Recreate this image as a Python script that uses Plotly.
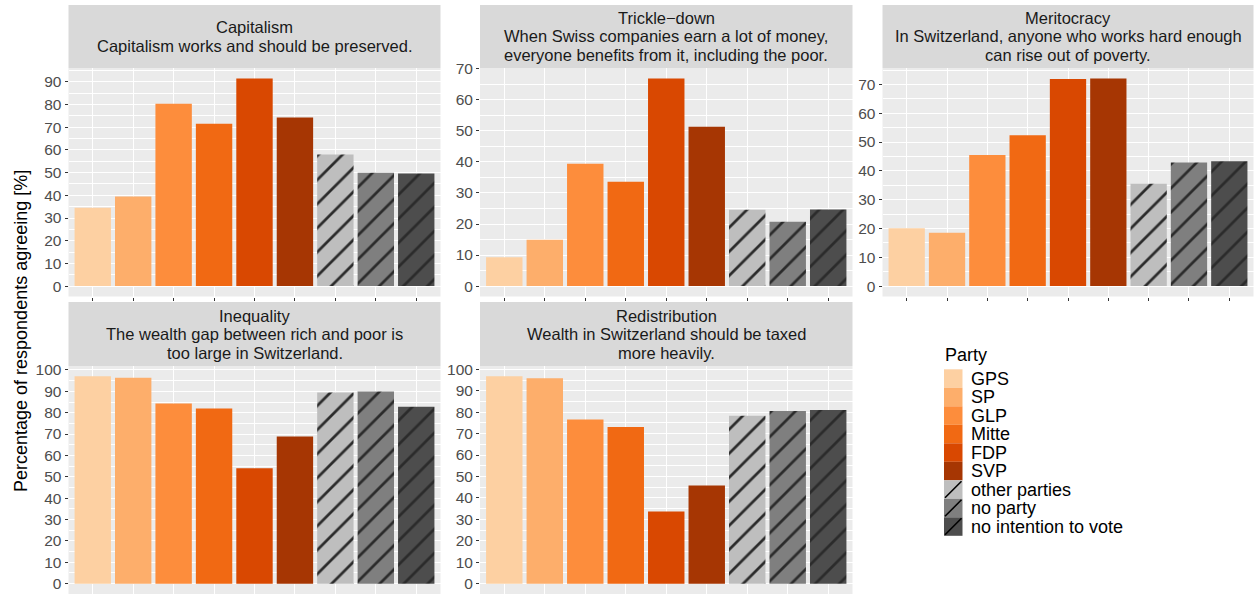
import plotly.graph_objects as go

# ---------------- data ----------------
parties = ["GPS", "SP", "GLP", "Mitte", "FDP", "SVP",
           "other parties", "no party", "no intention to vote"]
party_colors = ["#FDD0A2", "#FDAE6B", "#FD8D3C", "#F16913", "#D94801", "#A63603",
                "#BEBEBE", "#7F7F7F", "#4D4D4D"]
party_hatched = [False, False, False, False, False, False, True, True, True]

topics = ["Capitalism", "Trickle\u2212down", "Meritocracy", "Inequality", "Redistribution"]
statements = [
    ["Capitalism works and should be preserved."],
    ["When Swiss companies earn a lot of money,", "everyone benefits from it, including the poor."],
    ["In Switzerland, anyone who works hard enough", "can rise out of poverty."],
    ["The wealth gap between rich and poor is", "too large in Switzerland."],
    ["Wealth in Switzerland should be taxed", "more heavily."],
]

capitalism = [34.5, 39.5, 80.3, 71.5, 91.5, 74.3, 58.0, 49.9, 49.6]
trickle_down = [9.3, 14.9, 39.4, 33.6, 66.9, 51.3, 24.6, 20.7, 24.7]
meritocracy = [20.1, 18.5, 45.5, 52.4, 71.9, 72.1, 35.5, 42.9, 43.3]
inequality = [97.0, 96.4, 84.3, 82.0, 54.0, 68.9, 89.4, 89.9, 82.8]
redistribution = [96.7, 95.8, 76.6, 73.1, 33.7, 45.8, 78.3, 80.5, 81.0]
panel_values = [capitalism, trickle_down, meritocracy, inequality, redistribution]

y_title = "Percentage of respondents agreeing [%]"
legend_title = "Party"

# ---------------- layout geometry (pixels) ----------------
W, H = 1254, 594
col_px = [(68.5, 440.5), (480, 852.5), (882.5, 1253.5)]
row_px = [(68, 296.5), (366, 594)]
strip_px = [(5, 68), (302, 366)]
FONT = "Liberation Sans, Arial, sans-serif"
HATCH = "#2B2B2B"


def fx(px):
    return px / W


def fy(py):
    return 1 - py / H


fig = go.Figure()
shapes = []
annotations = []

for i, vals in enumerate(panel_values):
    r, c = divmod(i, 3)
    n = i + 1
    xa = "x" if n == 1 else f"x{n}"
    ya = "y" if n == 1 else f"y{n}"
    plain = [j for j, h in enumerate(party_hatched) if not h]
    hatched = [j for j, h in enumerate(party_hatched) if h]
    fig.add_trace(go.Bar(
        x=[parties[j] for j in plain], y=[vals[j] for j in plain],
        xaxis=xa, yaxis=ya, showlegend=False,
        marker=dict(color=[party_colors[j] for j in plain], line=dict(width=0)),
    ))
    for j in hatched:
        fig.add_trace(go.Bar(
            x=[parties[j]], y=[vals[j]],
            xaxis=xa, yaxis=ya, showlegend=False,
            marker=dict(color=party_colors[j], line=dict(width=0),
                        pattern=dict(shape="/", fillmode="overlay", fgcolor=HATCH,
                                     bgcolor=party_colors[j],
                                     fgopacity=1, size=17, solidity=0.16)),
        ))
    m = max(vals)
    x0, x1 = col_px[c]
    y0, y1 = row_px[r]
    fig.layout[("xaxis" if n == 1 else f"xaxis{n}")] = dict(
        domain=[fx(x0), fx(x1)], anchor=ya, type="category",
        categoryorder="array", categoryarray=parties,
        range=[-0.6, len(parties) - 0.4], automargin=False,
        showticklabels=False, ticks="outside", ticklen=3, tickcolor="#333333",
        tickwidth=1, showgrid=True, gridcolor="white", gridwidth=1.1,
        zeroline=False, showline=False, fixedrange=True,
    )
    fig.layout[("yaxis" if n == 1 else f"yaxis{n}")] = dict(
        domain=[fy(y1), fy(y0)], anchor=xa, automargin=False,
        range=[-0.05 * m, 1.05 * m], tick0=0, dtick=10,
        ticks="outside", ticklen=3, tickcolor="#333333", tickwidth=1,
        tickfont=dict(family=FONT, size=15.5, color="#4D4D4D"),
        showgrid=True, gridcolor="white", gridwidth=1.1,
        minor=dict(tick0=5, dtick=10, showgrid=True, gridcolor="white", gridwidth=0.5),
        zeroline=False, showline=False, fixedrange=True,
    )
    # strip
    s0, s1 = strip_px[r]
    shapes.append(dict(type="rect", xref="paper", yref="paper",
                       x0=fx(x0), x1=fx(x1), y0=fy(s1), y1=fy(s0),
                       fillcolor="#D9D9D9", line=dict(width=0), layer="below"))
    lines = [topics[i]] + statements[i]
    centre = (s0 + s1) / 2
    nl = len(lines)
    for k, t in enumerate(lines):
        py = centre + (k - (nl - 1) / 2) * 18.5
        annotations.append(dict(text=t, xref="paper", yref="paper",
                                x=fx((x0 + x1) / 2), y=fy(py), xanchor="center",
                                yanchor="middle", showarrow=False,
                                font=dict(family=FONT, size=16.5, color="#1A1A1A")))

# y axis title
annotations.append(dict(text=y_title, xref="paper", yref="paper", x=fx(21), y=fy(331),
                        textangle=-90, showarrow=False, xanchor="center", yanchor="middle",
                        font=dict(family=FONT, size=18, color="black")))

# legend (manual)
lx0, lx1 = 944, 962.5
ly = 369.3
step = 18.5
annotations.append(dict(text=legend_title, xref="paper", yref="paper", x=fx(943), y=fy(355),
                        xanchor="left", yanchor="middle", showarrow=False,
                        font=dict(family=FONT, size=18, color="black")))
for k, (name, col, hat) in enumerate(zip(parties, party_colors, party_hatched)):
    top = ly + k * step
    bot = top + step
    shapes.append(dict(type="rect", xref="paper", yref="paper",
                       x0=fx(lx0), x1=fx(lx1), y0=fy(bot), y1=fy(top),
                       fillcolor=col, line=dict(width=0)))
    if hat:
        shapes.append(dict(type="line", xref="paper", yref="paper",
                           x0=fx(lx0 + 1), y0=fy(bot - 1), x1=fx(lx1 - 1), y1=fy(top + 1),
                           line=dict(color="black", width=1.6)))
    annotations.append(dict(text=name, xref="paper", yref="paper", x=fx(969), y=fy(top + step / 2),
                            xanchor="left", yanchor="middle", showarrow=False,
                            font=dict(family=FONT, size=18, color="black")))

fig.update_layout(
    width=W, height=H, autosize=False,
    margin=dict(l=0, r=0, t=0, b=0, pad=0),
    paper_bgcolor="white", plot_bgcolor="#EBEBEB",
    barmode="overlay", bargap=0.1, showlegend=False,
    shapes=shapes, annotations=annotations,
    font=dict(family=FONT),
)

fig.write_html("out.html", config={"displayModeBar": False},
               post_script="document.body.style.margin='0';document.body.style.overflow='hidden';")
